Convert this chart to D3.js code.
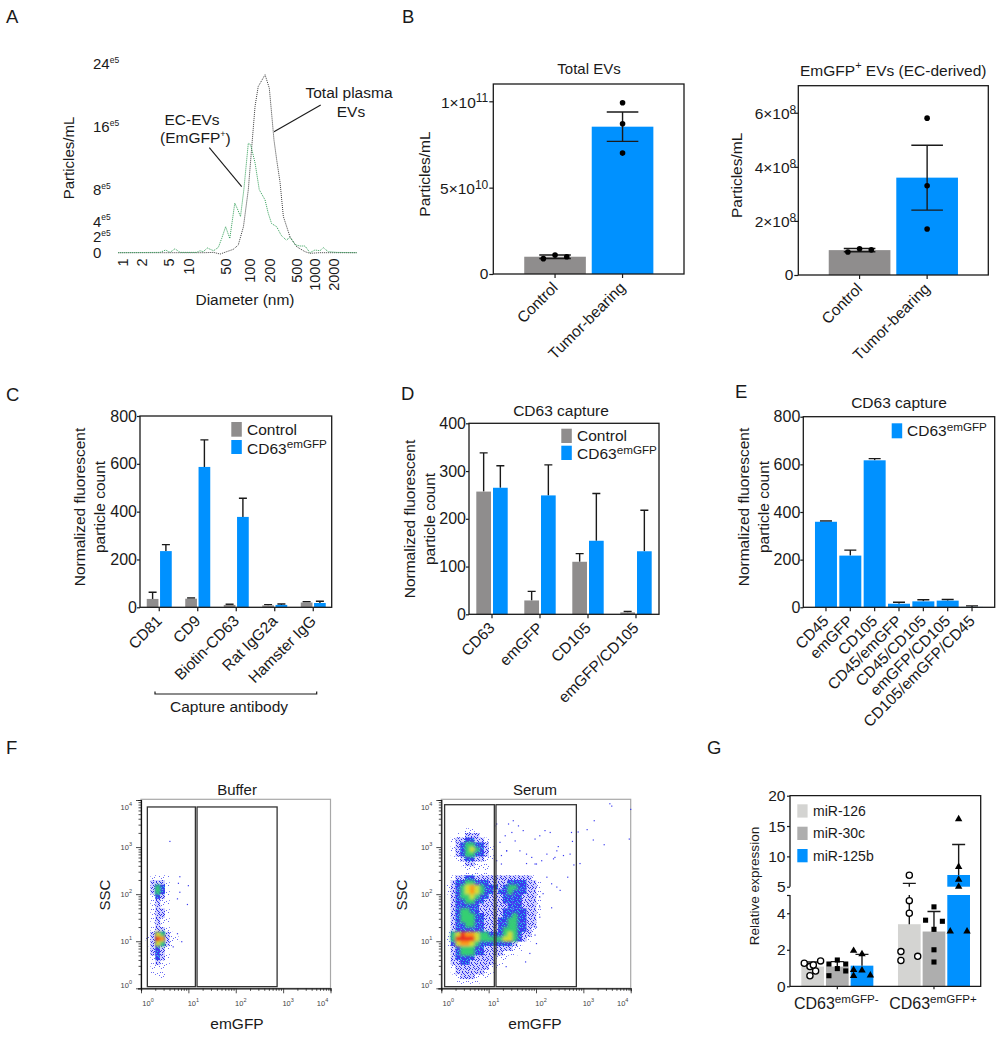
<!DOCTYPE html>
<html><head><meta charset="utf-8">
<script src="https://cdnjs.cloudflare.com/ajax/libs/d3/7.8.5/d3.min.js"></script>
<style>html,body{margin:0;padding:0;background:#fff}svg{display:block}text{font-family:"Liberation Sans",Arial,sans-serif;fill:#1a1a1a}</style>
</head><body><div id="c"></div>
<script>
// ---------- DATA ----------
const panelLetters=["A","B","C","D","E","F","G"];
// A: size distribution
const sizeTicks=[1,2,5,10,50,100,200,500,1000,2000];
const peTicks=[0,2,4,8,16,24];
const totalDiam=[0.86,2,5,10,20,30,40,52,63,73,85,98,110,123,137,173,200,216,234,256,286,320,400,500,693,843,1200,2500,4700];
const totalVal=[0,0,0,0,0,0.04,-0.17,0.13,0.42,0.97,3.3,8.0,13.5,18.6,21.1,22.6,20.9,17.7,14.3,11.8,9.0,4.6,2.0,0.76,0.13,-0.08,0,0,0];
const greenDiam=[0.86,3.76,4.56,5.3,6.3,7.5,14.4,16.6,19.2,22.8,30,37,42.7,50.5,57,66,71,78,86,98,106,123,142,173,193,216,256,298,353,400,478,570,693,843,1024,1230,1390,1660,2260,4700];
const greenVal=[0,0.04,0.34,0.04,0.5,0.04,0.04,0.25,0.13,0.6,0.25,0.68,1.8,3.3,1.8,6.3,5.6,4.6,8.0,13.9,13.7,11.4,8.0,6.7,5.0,3.7,3.3,2.2,1.6,1.95,1.0,0.85,0.85,0,0.34,0.25,0.64,0.13,0.04,0];
// B
const groupsB=["Control","Tumor-bearing"];
const totalEvMean=[1.0e10,8.53e10], totalEvErr=[0.1e10,0.85e10];
const totalEvPts=[[0.89e10,1.1e10,1.0e10],[7.0e10,8.7e10,9.92e10]];
const gfpEvMean=[0.92e8,3.6e8], gfpEvErr=[0.06e8,1.2e8];
const gfpEvPts=[[0.85e8,0.97e8,0.93e8],[1.7e8,3.3e8,5.8e8]];
// C
const catC=["CD81","CD9","Biotin-CD63","Rat IgG2a","Hamster IgG"];
const cCtrl=[35,36,10,8,20], cCtrlTop=[63,39,13,11,23];
const cGfp=[235,587,378,10,18], cGfpTop=[262,700,456,14,25];
// D
const catD=["CD63","emGFP","CD105","emGFP/CD105"];
const dCtrl=[257,29,110,4], dCtrlTop=[338,48,127,6];
const dGfp=[265,249,154,132], dGfpTop=[311,313,253,218];
// E
const catE=["CD45","emGFP","CD105","CD45/emGFP","CD45/CD105","emGFP/CD105","CD105/emGFP/CD45"];
const eGfp=[359,217,617,15,25,28,1.5], eGfpTop=[362,240,624,21,32,33,6];
// F: density, one character per 0.1 x 0.1 decade cell (level 0-7)
const bufferFirstRow=16;
const bufferDensity=["001111000","002221000","002431000","002431000","001321000","001211000","001211000","001221000","001221000","001211000","000211000","001221000","012542100","012762110","012542100","002321000","002321000","001321000","001211000","001110000","001110000","000110000"];
const bufferOutX=[0.61,0.82,1.00,0.79,0.77,0.98,0.82,0.68,0.86,0.77];
const bufferOutY=[3.12,2.37,2.18,2.23,1.90,1.78,2.04,0.88,0.99,1.16];
const serumFirstRow=6;
const serumDensity=[
"00000110000000000000000",
"00011222100000000000000",
"00122332210000000000000",
"00123443321000000000000",
"00123454321000000000000",
"00123443321000000000000",
"00012332211000000000000",
"00001221110000000000000",
"00000111110000000000000",
"00000111110000000000000",
"00122332222222222221000",
"00233443332222333322100",
"01234565433323443322100",
"01234565433233433322100",
"00234454332223333222100",
"00233443322223333222100",
"00233333222222333222100",
"00234433222223333322100",
"00234443322223343322100",
"00234443322233443322000",
"00233443322233443322000",
"00233333322234443321000",
"01457665443334543221000",
"01477775444445543210000",
"01356654333333321000000",
"00234443322222211000000",
"00234443322221110000000",
"00233332222111000000000",
"00223322222110000000000",
"00122222221100000000000",
"00122222211000000000000",
"00012221110000000000000",
"00011111000000000000000"];
const serumOutX=[1.42,1.52,1.63,1.49,1.73,1.56,1.24,1.35,1.98,2.08,2.19,2.30,2.75,2.89,3.08,3.23,3.56,3.60,4.0,3.97,3.21,3.44,2.77,2.47,2.44,2.23,2.37,2.58,2.72,2.40,2.12,2.01,1.91,1.80,1.66,1.38,1.27,1.27,1.17,2.93,2.80,2.67,2.33,2.44,2.51,2.23,2.15,2.08,2.33,2.08,2.01,1.98,2.01,1.87,1.78,1.37,2.08,2.01,1.17,1.13,1.38,1.80,1.98];
const serumOutY=[3.49,3.56,3.45,3.31,3.35,3.13,3.10,3.24,3.17,3.24,3.35,3.31,3.31,3.32,3.37,3.56,3.92,3.87,3.80,3.17,3.15,3.05,3.12,3.01,2.92,2.85,2.75,2.82,2.85,2.78,2.71,2.64,2.78,2.85,2.92,2.92,2.82,2.64,2.71,2.65,2.62,2.36,2.22,2.15,2.08,2.36,2.01,1.73,1.71,1.51,1.30,1.13,0.95,0.74,0.56,0.46,1.94,2.15,3.49,3.45,2.92,2.65,2.64];
const gateX1=[0.134,1.148], gateX2=[1.183,2.873], gateYBuffer=[0.035,3.852];
const gateSX1=[0.07,1.12], gateSX2=[1.155,2.852], gateYSerum=[0.035,3.90];
// G
const catG=["CD63emGFP-","CD63emGFP+"];
const miRs=["miR-126","miR-30c","miR-125b"];
const gMean=[[1.08,1.08,1.13],[3.4,3.0,6.93]];
const gTop=[[1.33,1.35,1.75],[5.55,4.1,11.95]];
const gPtsV=[[[1.26,0.58,1.08,0.84,1.39,1.17],[1.22,0.58,1.44,0.97,1.22,0.84],[1.95,0.9,0.57,1.77,0.88,0.6]],
             [[1.9,1.41,1.64,4.0,4.69,6.88],[1.33,2.0,3.12,3.62,3.56,4.35],[3.01,3.01,5.0,6.16,8.26,16.15]]];
const gPtsJ=[[[-.37,-.12,-.12,.13,.35,.03],[-.37,-.37,0,0,.37,.37],[-.37,-.37,-.37,0,0,.37]],
             [[-.37,-.37,.37,0,0,0],[0,0,0,-.37,.37,0],[-.37,.37,0,0,0,0]]];
// ---------- STYLE ----------
const BLUE="#0091ff",GRAY="#8f8d8d",INK="#1a1a1a",FS=15.5;
const LABEL_TF="translate(-6,-1.5) rotate(-45) translate(-3,2)";
const svg=d3.select("#c").append("svg").attr("width",999).attr("height",1038).attr("viewBox","0 0 999 1038");
const defs=svg.append("defs");
defs.append("filter").attr("id","soft").attr("x","-10%").attr("y","-10%").attr("width","120%").attr("height","120%")
  .append("feGaussianBlur").attr("stdDeviation",1.4);
// speckle textures for the low-density levels of the flow plots (decoration of a cell fill, not data)
const speckle=[[0,0],[4,1],[7,0],[2,2],[6,3],[1,4],[8,5],[4,6],[0,7],[3,8],[6,8],[5,2],[2,5],[7,6],[3,0],[0,3],[5,4],[8,1],[1,6],[6,5],[3,3],[8,8],[1,1],[4,8]];
[[1,"none",7,"#3a3cf0"],[2,"#cfd0ff",20,"#2c2ee8"],[3,"#3a3cf0",14,"#20c8e0"]].forEach(p=>{
  const pt=defs.append("pattern").attr("id","lvl"+p[0]).attr("patternUnits","userSpaceOnUse").attr("width",9).attr("height",9);
  if(p[1]!="none")pt.append("rect").attr("width",9).attr("height",9).attr("fill",p[1]);
  speckle.slice(0,p[2]).forEach(s=>pt.append("rect").attr("x",s[0]).attr("y",s[1]).attr("width",1).attr("height",1).attr("fill",p[3]).attr("fill-opacity",p[0]==1?.75:1));
});

function txt(x,y,s,o={}){
  const t=svg.append("text").attr("x",x).attr("y",y).attr("font-size",o.fs||FS).attr("text-anchor",o.a||"middle").attr("dominant-baseline","central").text(s);
  if(o.rot!=null)t.attr("transform",`rotate(${o.rot} ${x} ${y})`);
  return t;
}
function sup(t,s,fs,dy){t.append("tspan").attr("font-size",fs).attr("dy",dy).text(s);return t;}
function frame(g,l,r,t,b){g.append("rect").attr("x",l).attr("y",t).attr("width",r-l).attr("height",b-t).attr("fill","none").attr("stroke",INK).attr("stroke-width",1.3);}
function styleAxis(a,fs){a.select(".domain").remove();a.selectAll("line").attr("stroke",INK).attr("stroke-width",1.2);a.selectAll("text").attr("font-size",fs||FS).attr("fill",INK);}
const px=(x,y)=>`translate(${x},${y})`;

[["A",6,23],["B",402,23],["C",6,401],["D",401,399.5],["E",735,398],["F",6,754],["G",707,754]].forEach((d,i)=>{
  svg.append("text").attr("x",d[1]).attr("y",d[2]).attr("font-size",18.5).text(panelLetters[i]);
});

// ---------- A ----------
{
  const x=d3.scaleLog().domain([0.86,...sizeTicks,4700]).range([118.3,122.7,141.7,168.3,188.3,225.3,249,269.3,296.7,314.3,333.3,356.7]);
  const y=d3.scaleLinear().domain([0,24]).range([252.7,63.7]);
  const g=svg.append("g");
  const line=d3.line();
  g.append("path").attr("d",line(totalDiam.map((d,i)=>[x(d),y(totalVal[i])]))).attr("fill","none").attr("stroke","#3c3c3c").attr("stroke-width",1).attr("stroke-dasharray","1 1");
  g.append("path").attr("d",line(greenDiam.map((d,i)=>[x(d),y(greenVal[i])]))).attr("fill","none").attr("stroke","#2f9e55").attr("stroke-width",1).attr("stroke-dasharray","1 1");
  const ax=g.append("g").attr("transform",px(0,258.5)).call(d3.axisBottom(x).tickValues(sizeTicks).tickSize(0).tickPadding(0).tickFormat(d3.format("d")));
  styleAxis(ax,14.5);
  ax.selectAll("text").attr("text-anchor","end").attr("dy",".35em").attr("y",0).attr("x",0).attr("transform","rotate(-90)");
  peTicks.forEach(v=>{
    const t=txt(93,y(v),v,{a:"start",fs:15});
    if(v>0) sup(t,"e5",8.5,-4);
  });
  txt(68,158,"Particles/mL",{rot:-90,fs:15});
  txt(245,299,"Diameter (nm)");
  txt(349,92,"Total plasma");txt(351,111,"EVs");
  txt(192,119,"EC-EVs");
  const t=svg.append("text").attr("x",160).attr("y",137.5).attr("font-size",FS).attr("dominant-baseline","central").text("(EmGFP");
  sup(t,"+",9,-4);t.append("tspan").attr("dy",4).text(")");
  [[320.7,105,274,131.7],[209.3,147.7,241.7,186.7]].forEach(l=>g.append("line").attr("x1",l[0]).attr("y1",l[1]).attr("x2",l[2]).attr("y2",l[3]).attr("stroke",INK).attr("stroke-width",1.1));
}

// ---------- B ----------
function panelB(o){
  const g=svg.append("g");
  const x=d3.scaleBand().domain(groupsB).range(o.xr).paddingInner(.087).paddingOuter(.0435);
  const y=d3.scaleLinear().domain(o.dom).range([o.b,o.t]);
  g.selectAll("rect.b").data(groupsB).join("rect").attr("class","b").attr("x",d=>x(d)).attr("width",x.bandwidth()).attr("y",(d,i)=>y(o.mean[i])).attr("height",(d,i)=>o.b-y(o.mean[i])).attr("fill",(d,i)=>i?BLUE:GRAY);
  frame(g,o.l,o.r,o.t,o.b);
  const cx=d=>x(d)+x.bandwidth()/2;
  groupsB.forEach((d,i)=>{
    const X=cx(d),hi=y(o.mean[i]+o.err[i]),lo=y(o.mean[i]-o.err[i]);
    g.append("path").attr("d",`M${X-15.8},${hi}H${X+15.8}M${X},${hi}V${lo}M${X-15.8},${lo}H${X+15.8}`).attr("fill","none").attr("stroke",INK).attr("stroke-width",1.4);
    o.pts[i].forEach((v,k)=>{
      const dx=i==0?[-11.7,0,11.7][k]:0;
      g.append("circle").attr("cx",X+dx).attr("cy",y(v)).attr("r",2.8).attr("fill","#000");
    });
  });
  const ay=g.append("g").attr("transform",px(o.l,0)).call(d3.axisLeft(y).tickValues(o.ticks).tickSize(4).tickPadding(o.pad).tickFormat(()=>""));
  styleAxis(ay);
  o.ticks.forEach(v=>{
    const e=o.fmt(v);
    const t=txt(o.l-(e[1]?o.lab:5),y(v)+(e[1]?1:-1),e[0],{a:"end",fs:15.5});
    if(e[1]) {sup(t,e[1],12,-4);}
  });
  const ax=g.append("g").attr("transform",px(0,o.b)).call(d3.axisBottom(x).tickSize(4).tickPadding(3));
  styleAxis(ax);
  ax.selectAll("text").attr("text-anchor","end").attr("dy",".6em").attr("dx","-.1em").attr("transform",LABEL_TF);
  txt(o.ylx,(o.t+o.b)/2-5,"Particles/mL",{rot:-90,fs:15.5});
}
panelB({l:493.3,r:684,t:84,b:274,xr:[521.3,656.3],dom:[0,(274-84)/172.7*1e11],mean:totalEvMean,err:totalEvErr,pts:totalEvPts,ticks:[0,5e10,1e11],pad:3,lab:5,
  fmt:v=>v==0?["0",""]:v==5e10?["5×10","10"]:["1×10","11"],ylx:424});
txt(589,68,"Total EVs",{fs:15});
panelB({l:798.3,r:988.3,t:85.7,b:275,xr:[825.8,960.9],dom:[0,7e8],mean:gfpEvMean,err:gfpEvErr,pts:gfpEvPts,ticks:[0,2e8,4e8,6e8],pad:3,lab:2,
  fmt:v=>v==0?["0",""]:[(v/1e8)+"×10","8"],ylx:737});
{const t=svg.append("text").attr("x",800).attr("y",70).attr("font-size",15.5).attr("dominant-baseline","central").text("EmGFP");
 sup(t,"+",11,-5);t.append("tspan").attr("dy",5).text(" EVs (EC-derived)");}

// ---------- C, D, E ----------
function barPanel(o){
  const g=svg.append("g");
  const x=d3.scaleBand().domain(o.cats).range(o.xr).paddingInner(o.pi||0).paddingOuter(o.po||0);
  const y=d3.scaleLinear().domain(o.dom).range([o.b,o.t]);
  const inner=d3.scaleBand().domain(o.series.map((s,i)=>i)).range([-o.step*o.series.length/2,o.step*o.series.length/2]).paddingInner(o.ip).paddingOuter(o.ip/2);
  o.series.forEach((s,k)=>{
    o.cats.forEach((c,i)=>{
      const X=x(c)+x.bandwidth()/2+inner(k),w=inner.bandwidth(),m=X+w/2;
      g.append("path").attr("d",`M${m},${y(s.v[i])}V${y(s.top[i])}M${m-o.cap},${y(s.top[i])}H${m+o.cap}`).attr("fill","none").attr("stroke",INK).attr("stroke-width",1.4);
      g.append("rect").attr("x",X).attr("width",w).attr("y",y(s.v[i])).attr("height",o.b-y(s.v[i])).attr("fill",s.c);
    });
  });
  frame(g,o.l,o.r,o.t,o.b);
  const ay=g.append("g").attr("transform",px(o.l,0)).call(d3.axisLeft(y).tickValues(o.ticks).tickSize(3).tickPadding(0).tickFormat(d3.format("d")));
  styleAxis(ay,16);
  const ax=g.append("g").attr("transform",px(0,o.b)).call(d3.axisBottom(x).tickSize(4).tickPadding(3));
  styleAxis(ax);
  ax.selectAll("text").attr("text-anchor","end").attr("dy",".6em").attr("dx","-.1em").attr("transform",LABEL_TF);
  txt(o.yl[0],o.yl[2],"Normalized fluorescent",{rot:-90});
  txt(o.yl[1],o.yl[2],"particle count",{rot:-90});
}
function legendGFP(sqx,tx,rows){
  rows.forEach(r=>{
    svg.append("rect").attr("x",sqx).attr("y",r.y).attr("width",10.5).attr("height",r.h).attr("fill",r.c);
    const t=txt(tx,r.y+r.h/2+(r.d||0),r.s,{a:"start"});
    if(r.sup) sup(t,r.sup,11.7,-5);
  });
}
barPanel({cats:catC,xr:[140,332.5],l:140,r:331.7,t:416,b:607.3,dom:[0,800],ticks:[0,200,400,600,800],step:13.3,ip:.12,cap:4,
  series:[{v:cCtrl,top:cCtrlTop,c:GRAY},{v:cGfp,top:cGfpTop,c:BLUE}],yl:[79,99,507]});
legendGFP(231.3,247,[{y:422,h:14.7,c:GRAY,s:"Control"},{y:440,h:14,c:BLUE,s:"CD63",sup:"emGFP",d:1}]);
svg.append("path").attr("d","M155,691.5V694H316.7V691.5").attr("fill","none").attr("stroke",INK).attr("stroke-width",1.2);
txt(229,706,"Capture antibody");

barPanel({cats:catD,xr:[468,660],l:469,r:659,t:423.3,b:614.3,dom:[0,400],ticks:[0,100,200,300,400],step:16.7,ip:.12,cap:4,
  series:[{v:dCtrl,top:dCtrlTop,c:GRAY},{v:dGfp,top:dGfpTop,c:BLUE}],yl:[409,429,519]});
legendGFP(561.3,577,[{y:428.7,h:14.3,c:GRAY,s:"Control"},{y:445.7,h:14.3,c:BLUE,s:"CD63",sup:"emGFP",d:1}]);
txt(561,410,"CD63 capture");

barPanel({cats:catE,xr:[813.8,984.2],pi:.096,po:.048,l:803.3,r:994.7,t:416.7,b:607.3,dom:[0,800],ticks:[0,200,400,600,800],step:24.3,ip:.095,cap:6,
  series:[{v:eGfp,top:eGfpTop,c:BLUE}],yl:[743,763,507]});
legendGFP(891.7,907,[{y:423.3,h:15,c:BLUE,s:"CD63",sup:"emGFP"}]);
txt(899,402.7,"CD63 capture");

// ---------- F ----------
function flow(o){
  const g=svg.append("g");
  const X=d3.scaleLinear().domain([0,4]).range([o.l,o.r]);
  const Y=d3.scaleLinear().domain([0,4]).range([o.b,o.t]);
  g.append("rect").attr("x",o.l).attr("y",o.t-.7).attr("width",o.r-o.l).attr("height",o.b-o.t+.7).attr("fill","none").attr("stroke","#a8a8a8").attr("stroke-width",1.2);
  const color=d3.scaleLinear().domain([4,5,6,7]).range(["#35cf72","#d9e22a","#ff9a14","#ee2a1e"]);
  const low=g.append("g"), dens=g.append("g").attr("filter","url(#soft)");
  o.grid.forEach((row,r)=>{
    [...row].forEach((ch,c)=>{
      const v=+ch; if(!v) return;
      const rr=r+o.first;
      const cell=s=>s.append("rect").attr("x",X(c*.1)).attr("y",Y(4-rr*.1)).attr("width",X(.1)-X(0)+.3).attr("height",Y(0)-Y(.1)+.3);
      cell(low).attr("fill",`url(#lvl${Math.min(v,3)})`);
      if(v>=4) cell(dens).attr("fill",color(v));
    });
  });
  o.ox.forEach((v,i)=>g.append("rect").attr("x",X(v)-.6).attr("y",Y(o.oy[i])-.6).attr("width",1.2).attr("height",1.2).attr("fill","#3a3cf0"));
  [o.g1,o.g2].forEach(d=>{
    g.append("rect").attr("x",X(d[0])).attr("y",Y(o.gy[1])).attr("width",X(d[1])-X(d[0])).attr("height",Y(o.gy[0])-Y(o.gy[1])).attr("fill","none").attr("stroke","#333").attr("stroke-width",1.3);
  });
  // log axes
  const lx=d3.scaleLog().domain([1,1e4]).range([o.l,o.r]), ly=d3.scaleLog().domain([1,1e4]).range([o.b,o.t]);
  const minors=[];for(let e=0;e<4;e++)for(let m=1;m<10;m++)minors.push(m*10**e);minors.push(1e4);
  const isMaj=v=>Math.abs(Math.log10(v)%1)<1e-9;
  const ax=g.append("g").attr("transform",px(0,o.b)).call(d3.axisBottom(lx).tickValues(minors).tickSize(3).tickFormat(""));
  ax.select(".domain").attr("stroke","#111").attr("stroke-width",1.2);
  ax.selectAll(".tick line").attr("stroke","#222").attr("stroke-width",.8).attr("y2",d=>isMaj(d)?5:2.5);
  const ay=g.append("g").attr("transform",px(o.l,0)).call(d3.axisLeft(ly).tickValues(minors).tickSize(3).tickFormat(""));
  ay.select(".domain").attr("stroke","#111").attr("stroke-width",1.2);
  ay.selectAll(".tick line").attr("stroke","#222").attr("stroke-width",.8).attr("x2",d=>isMaj(d)?-5:-2.5);
  [0,1,2,3,4].forEach(e=>{
    const tx=txt(Math.min(Math.max(X(e)+5,o.l+7),o.r-8),1003,"10",{fs:7.5});tx.style("fill","#444");
    sup(tx,e,5.5,-3).style("fill","#444");
    const ty=txt(o.l-9,Math.max(Math.min(Y(e),o.b-3),o.t+7),"10",{a:"end",fs:7.5});ty.style("fill","#444");
    sup(ty,e,5.5,-3).style("fill","#444");
  });
  txt(o.cx,789,o.title,{fs:15});
  txt(o.sx,895,"SSC",{rot:-90,fs:15});
  txt(o.cx,1023,"emGFP");
}
flow({l:141,r:330.5,t:800,b:988.3,grid:bufferDensity,first:bufferFirstRow,ox:bufferOutX,oy:bufferOutY,g1:gateX1,g2:gateX2,gy:gateYBuffer,title:"Buffer",cx:237,sx:104});
flow({l:441.3,r:630.7,t:800,b:988.3,grid:serumDensity,first:serumFirstRow,ox:serumOutX,oy:serumOutY,g1:gateSX1,g2:gateSX2,gy:gateYSerum,title:"Serum",cx:535,sx:401});

// ---------- G ----------
{
  const g=svg.append("g");
  const l=790,r=980.7,t=795.7,b=986.3;
  const low=d3.scaleLinear().domain([0,5]).range([b,895]);
  const up=d3.scaleLinear().domain([5,20]).range([886.7,t]);
  const Yv=v=>v>=5?up(v):low(v);
  const x=d3.scaleBand().domain(catG).range([789,982.3]);
  const inner=d3.scaleBand().domain(miRs).range([-37,37]).paddingInner(.08).paddingOuter(.04);
  const cols=["#d4d4d2","#aeaeae",BLUE];
  const mark=[d3.symbolCircle,d3.symbolSquare,d3.symbolTriangle];
  catG.forEach((c,i)=>{
    miRs.forEach((m,k)=>{
      const X=x(c)+x.bandwidth()/2+inner(m),w=inner.bandwidth(),mid=X+w/2,v=gMean[i][k],top=gTop[i][k];
      g.append("rect").attr("x",X).attr("width",w).attr("y",low(Math.min(v,5))).attr("height",b-low(Math.min(v,5))).attr("fill",cols[k]);
      if(v>5) g.append("rect").attr("x",X).attr("width",w).attr("y",up(v)).attr("height",up(5)-up(v)).attr("fill",cols[k]);
      let dP=`M${mid-6.5},${Yv(top)}H${mid+6.5}`;
      if(v<5&&top>5) dP+=`M${mid},${low(v)}V${low(5)}M${mid},${up(5)}V${up(top)}`; else dP+=`M${mid},${Yv(v)}V${Yv(top)}`;
      g.append("path").attr("d",dP).attr("fill","none").attr("stroke",INK).attr("stroke-width",1.4);
      gPtsV[i][k].forEach((p,n)=>{
        const px0=mid+gPtsJ[i][k][n]*w,py0=Yv(p);
        const sz=[30,26,24][k];
        g.append("path").attr("d",d3.symbol().type(mark[k]).size(sz)()).attr("transform",px(px0,py0))
          .attr("fill",k==0?"#fff":"#000").attr("stroke","#000").attr("stroke-width",k==0?1.3:0);
      });
    });
  });
  g.append("path").attr("d",`M${l},${low(0)}H${r}V${t}H${l}V${up(5)}M${l},${low(5)}V${low(0)}`).attr("fill","none").attr("stroke",INK).attr("stroke-width",1.3);
  const a1=g.append("g").attr("transform",px(l,0)).call(d3.axisLeft(low).tickValues([0,2,4,5]).tickSize(3).tickPadding(1.5).tickFormat(d=>d==5?"":d));
  styleAxis(a1,15.5);
  const a2=g.append("g").attr("transform",px(l,0)).call(d3.axisLeft(up).tickValues([5,10,15,20]).tickSize(3).tickPadding(1.5).tickFormat(d3.format("d")));
  styleAxis(a2,15.5);
  txt(754,886,"Relative expression",{rot:-90,fs:13.6});
  miRs.forEach((m,k)=>{
    const yy=[804.3,826.7,849][k];
    g.append("rect").attr("x",797.3).attr("y",yy).attr("width",10.3).attr("height",13.3).attr("fill",cols[k]);
    txt(813,yy+6.7,m,{a:"start",fs:14});
  });
  catG.forEach(c=>{
    const t0=txt(x(c)+x.bandwidth()/2-1,1003,"CD63",{fs:16});
    sup(t0,c.slice(4),11.6,-5);
  });
  const ax=g.append("g").attr("transform",px(0,b)).call(d3.axisBottom(x).tickSize(3).tickFormat(""));
  ax.select(".domain").remove();ax.selectAll("line").attr("stroke",INK).attr("stroke-width",1.2);
}
</script></body></html>
